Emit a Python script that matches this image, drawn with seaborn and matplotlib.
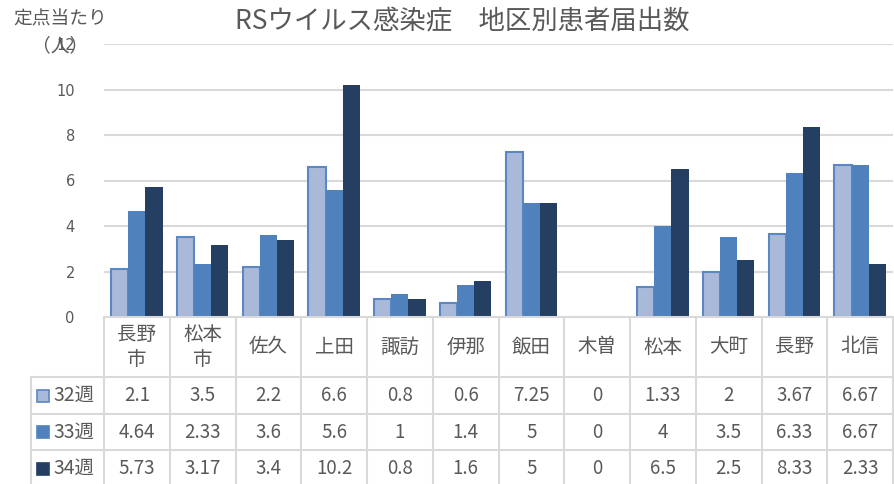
import numpy as np
import pandas as pd
import matplotlib
matplotlib.use("Agg")
import matplotlib.pyplot as plt
from matplotlib.patches import Rectangle
import seaborn as sns

# ---- data ----
categories = ["長野市", "松本市", "佐久", "上田", "諏訪", "伊那", "飯田", "木曽", "松本", "大町", "長野", "北信"]
weeks = ["32週", "33週", "34週"]
w32 = [2.1, 3.5, 2.2, 6.6, 0.8, 0.6, 7.25, 0, 1.33, 2, 3.67, 6.67]
w33 = [4.64, 2.33, 3.6, 5.6, 1, 1.4, 5, 0, 4, 3.5, 6.33, 6.67]
w34 = [5.73, 3.17, 3.4, 10.2, 0.8, 1.6, 5, 0, 6.5, 2.5, 8.33, 2.33]
yticks = [0, 2, 4, 6, 8, 10, 12]
title = "RSウイルス感染症　地区別患者届出数"
ylabel = "定点当たり\n（人）"

colors = ["#A9B9D9", "#4F81BD", "#243F62"]
edge_light = "#5B87C2"
grid_c = "#D9D9D9"
txt_c = "#595959"

series = [w32, w33, w34]
df = pd.DataFrame({
    "地区": np.tile(categories, len(weeks)),
    "週": np.repeat(weeks, len(categories)),
    "値": np.concatenate(series),
})

sns.set_style("white")
plt.rcParams["font.family"] = ["Noto Sans CJK JP", "DejaVu Sans"]

W, H = 894, 484
fig = plt.figure(figsize=(W / 100, H / 100), dpi=100)

# pixel layout
L, R, T, B = 104, 893, 44, 317
ax = fig.add_axes([L / W, (H - B) / H, (R - L) / W, (B - T) / H])

sns.barplot(data=df, x="地区", y="値", hue="週", order=categories, hue_order=weeks,
            palette=colors, saturation=1, width=0.78, ax=ax, legend=False,
            linewidth=0, errorbar=None)
for bar in ax.containers[0]:
    if bar.get_height() > 0:
        bar.set_edgecolor(edge_light)
        bar.set_linewidth(1.5)

ax.set_xlim(-0.5, len(categories) - 0.5)
ax.set_ylim(0, 12)
ax.set_yticks(yticks)
ax.set_yticklabels([str(t) for t in yticks], fontsize=10.5, color=txt_c,
                   family=["DejaVu Sans"])
ax.tick_params(axis="y", length=0, pad=21)
ax.set_xticks([])
ax.set_xlabel("")
ax.set_ylabel("")
for s in ax.spines.values():
    s.set_visible(False)
ax.yaxis.grid(True, color=grid_c, linewidth=1.5)
ax.set_axisbelow(True)

fig.text(462 / W, 1 - 22 / H, title, ha="center", va="center", fontsize=19,
         color=txt_c)
fig.text(60 / W, 1 - 32 / H, ylabel, ha="center", va="center", fontsize=13.5,
         color=txt_c, multialignment="center", linespacing=1.35)

# ---- data table ----
tax = fig.add_axes([L / W, 0, (R - L) / W, (H - B) / H])
tax.set_xlim(-0.5, len(categories) - 0.5)
tax.set_ylim(H - B, 0)
tax.axis("off")

px2x = len(categories) / (R - L)
label_left = -0.5 - (L - 31) * px2x
row_edges = [0, 60, 97, 133, 170]
lw = 1.5
# horizontal lines
tax.plot([-0.5, len(categories) - 0.5], [0, 0], color=grid_c, lw=lw, clip_on=False)
for yv in row_edges[1:]:
    tax.plot([label_left, len(categories) - 0.5], [yv, yv], color=grid_c, lw=lw, clip_on=False)
# vertical lines
for k in range(len(categories) + 1):
    tax.plot([k - 0.5, k - 0.5], [0, row_edges[-1]], color=grid_c, lw=lw, clip_on=False)
tax.plot([label_left, label_left], [row_edges[1], row_edges[-1]], color=grid_c, lw=lw, clip_on=False)

# header
for i, c in enumerate(categories):
    lab = c[:2] + "\n" + c[2:] if len(c) > 2 else c
    tax.text(i, (row_edges[0] + row_edges[1]) / 2, lab, ha="center", va="center",
             fontsize=14, color=txt_c, linespacing=1.3, clip_on=False)

# rows
key = 12 * px2x
for r, (wk, vals) in enumerate(zip(weeks, series)):
    yc = (row_edges[r + 1] + row_edges[r + 2]) / 2
    kx = label_left + 6 * px2x
    tax.add_patch(Rectangle((kx, yc - 6), key, 12, facecolor=colors[r],
                            edgecolor=edge_light if r == 0 else colors[r],
                            lw=1.2, clip_on=False))
    tax.text(kx + key + 4 * px2x, yc, wk, ha="left", va="center", fontsize=14,
             color=txt_c, clip_on=False)
    for i, v in enumerate(vals):
        tax.text(i, yc, f"{v:g}", ha="center", va="center", fontsize=13.5,
                 color=txt_c, clip_on=False)

fig.savefig("out.png", dpi=100)
